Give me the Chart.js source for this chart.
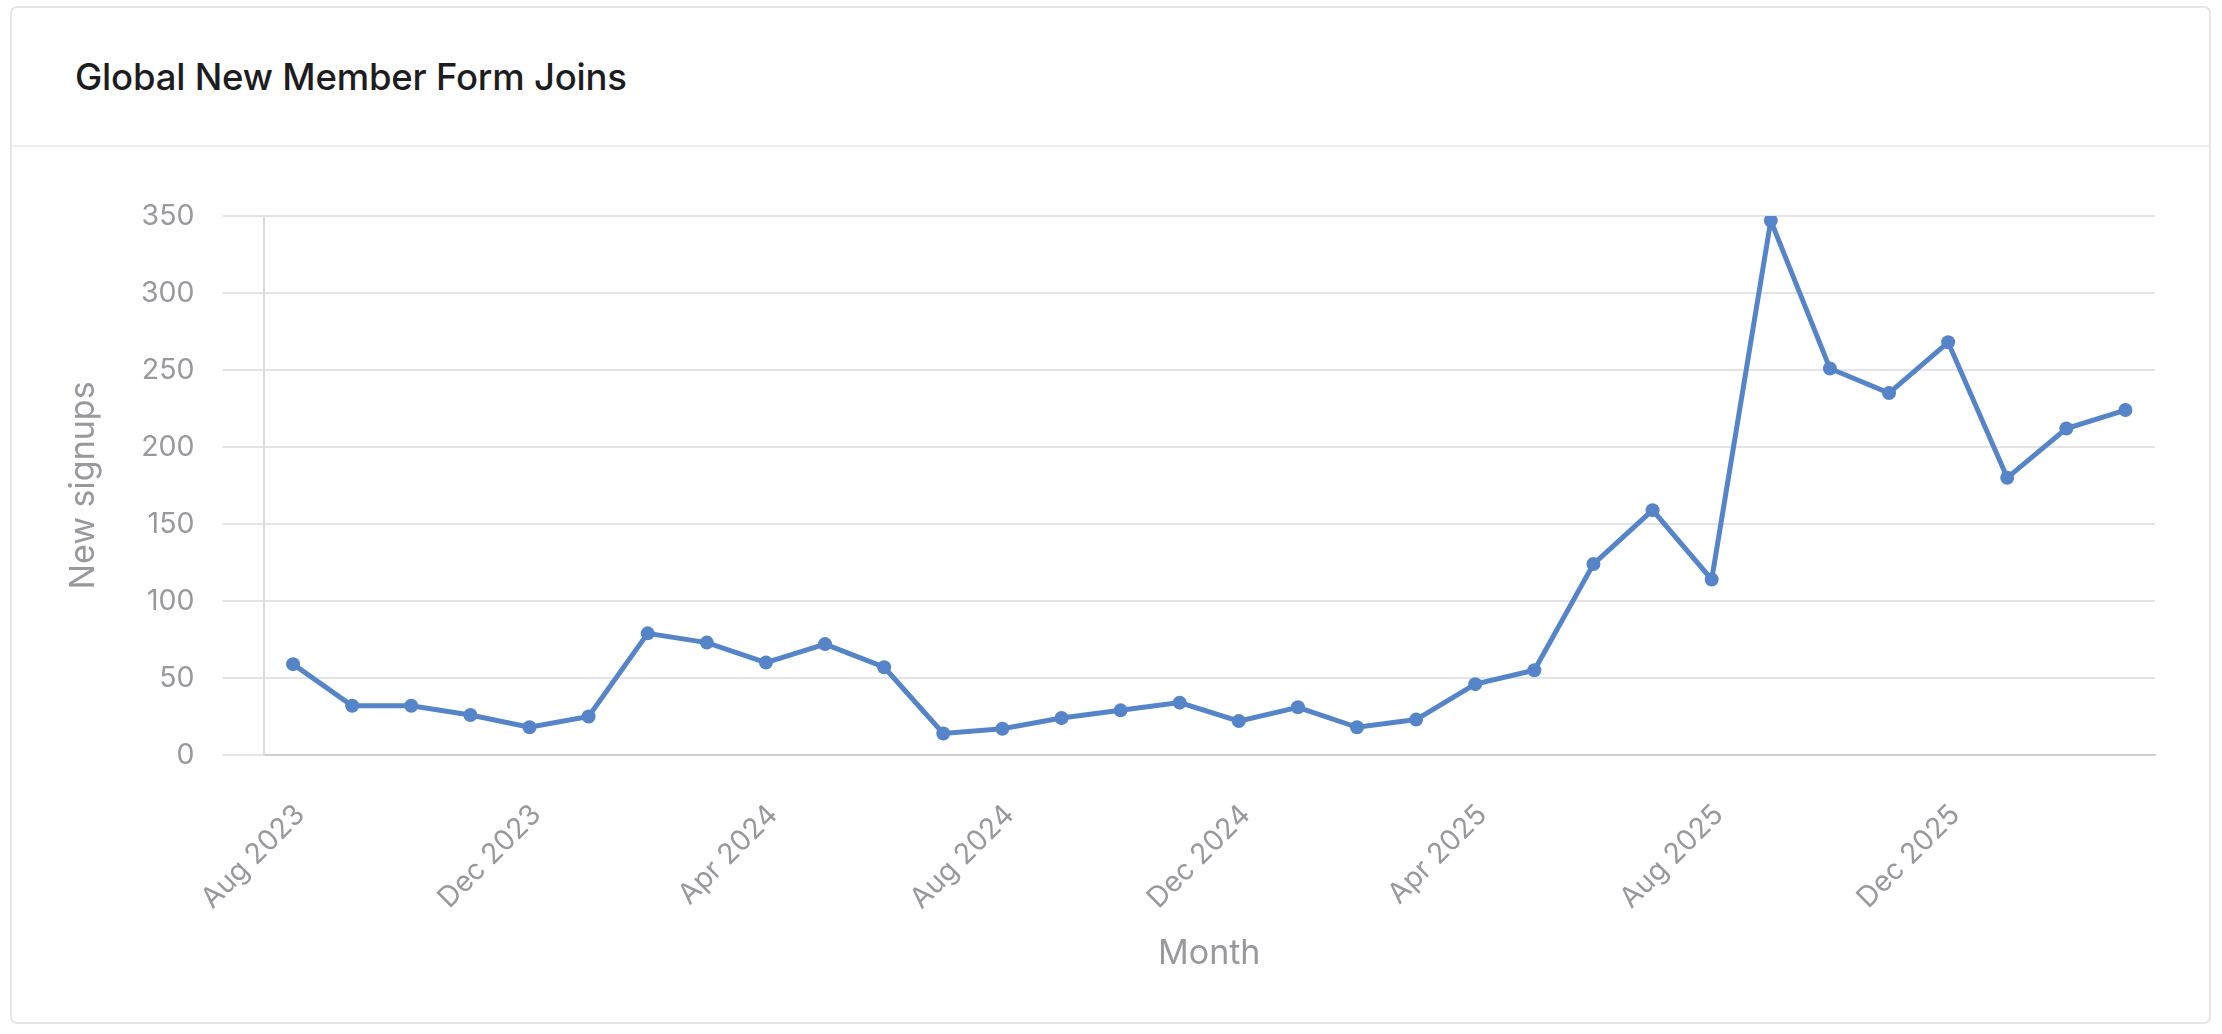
<!DOCTYPE html>
<html>
<head>
<meta charset="utf-8">
<script src="https://cdn.jsdelivr.net/npm/chart.js@4.4.1/dist/chart.umd.min.js"></script>
<style>
  html, body { margin: 0; padding: 0; background: #ffffff; width: 2222px; height: 1034px; overflow: hidden; }
  .card { position: absolute; left: 10px; top: 6px; width: 2197px; height: 1014px; border: 2px solid #e6e6e8; border-radius: 7px; background: #fff; box-sizing: content-box; }
  .header { position: absolute; left: 0; top: 0; right: 0; height: 137px; border-bottom: 2px solid #f0f0f2; }
  .title { position: absolute; left: 63px; top: 47px; font-family: Inter, "Noto Sans", sans-serif; font-weight: 500; font-size: 36.5px; color: #1d1d1f; letter-spacing: -0.2px; white-space: nowrap; }
  #wrap { position: absolute; left: 0; top: 0; width: 2222px; height: 1034px; }
</style>
</head>
<body>
<div class="card"><div class="header"><div class="title">Global New Member Form Joins</div></div></div>
<div id="wrap"><canvas id="c" width="2222" height="1034"></canvas></div>
<script>
const months = ["Aug 2023","Sep 2023","Oct 2023","Nov 2023","Dec 2023","Jan 2024","Feb 2024","Mar 2024","Apr 2024","May 2024","Jun 2024","Jul 2024","Aug 2024","Sep 2024","Oct 2024","Nov 2024","Dec 2024","Jan 2025","Feb 2025","Mar 2025","Apr 2025","May 2025","Jun 2025","Jul 2025","Aug 2025","Sep 2025","Oct 2025","Nov 2025","Dec 2025","Jan 2026","Feb 2026","Mar 2026"];
const signups = [59,32,32,26,18,25,79,73,60,72,57,14,17,24,29,34,22,31,18,23,46,55,124,159,114,347,251,235,268,180,212,224];
const yTicks = [0,50,100,150,200,250,300,350];
const labelEvery = 4;

const tickColor = '#98989e';
const fontFamily = 'Inter, "Noto Sans", sans-serif';

new Chart(document.getElementById('c'), {
  type: 'line',
  data: {
    labels: months,
    datasets: [{
      label: 'New signups',
      data: signups,
      borderColor: '#5585c8',
      backgroundColor: '#5585c8',
      borderWidth: 5,
      pointRadius: 7,
      pointHoverRadius: 7,
      pointBackgroundColor: '#5585c8',
      pointBorderWidth: 0,
      tension: 0,
      fill: false
    }]
  },
  options: {
    responsive: false,
    animation: false,
    devicePixelRatio: 1,
    layout: { padding: { left: 63, top: 216, right: 67, bottom: 60 } },
    plugins: { legend: { display: false }, tooltip: { enabled: false }, title: { display: false } },
    scales: {
      x: {
        offset: true,
        grid: { display: false, drawTicks: false },
        border: { display: true, color: '#cdcdd0', width: 2 },
        ticks: {
          autoSkip: false,
          minRotation: 45,
          maxRotation: 45,
          padding: 43,
          labelOffset: 7,
          color: tickColor,
          font: { family: fontFamily, size: 28.5 },
          callback: function(v, i) { return i % labelEvery === 0 ? months[i] : ''; }
        },
        title: { display: true, text: 'Month', color: tickColor, font: { family: fontFamily, size: 34 }, padding: 0 },
        afterFit: function(s) { s.height = 219; }
      },
      y: {
        min: 0,
        max: 350,
        afterBuildTicks: function(s) { s.ticks = yTicks.map(v => ({ value: v })); },
        grid: { color: '#e4e4e6', lineWidth: 2, tickLength: 41, drawTicks: true },
        border: { display: true, color: '#dcdcde', width: 2 },
        ticks: {
          padding: 28,
          color: tickColor,
          font: { family: fontFamily, size: 28.5 }
        },
        title: { display: true, text: 'New signups', color: tickColor, font: { family: fontFamily, size: 34 }, padding: 0 },
        afterFit: function(s) { s.width = 200.5; }
      }
    }
  }
});
</script>
</body>
</html>
